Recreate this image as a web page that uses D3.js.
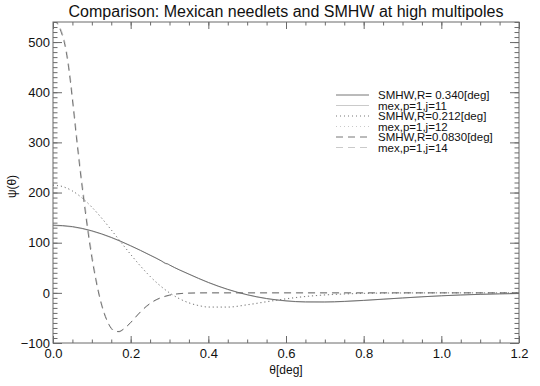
<!DOCTYPE html>
<html>
<head>
<meta charset="utf-8">
<script src="https://cdn.jsdelivr.net/npm/d3@7"></script>
<style>
  body { margin: 0; background: #fff; }
  text { font-family: 'Liberation Sans', Arial, sans-serif; fill: #111; }
</style>
</head>
<body>
<svg></svg>
<script>
let SVG = d3.select('svg').attr('width', 540).attr('height', 386);

// --- data
const THETA_1 = [0, 0.05, 0.1, 0.15, 0.2, 0.25, 0.28, 0.29, 0.295, 0.3, 0.35, 0.4, 0.45, 0.5, 0.55, 0.6, 0.65, 0.7, 0.75, 0.8, 0.85, 0.9, 0.95, 1.0, 1.05, 1.1, 1.15, 1.2];
const SMHW_340 = [135, 132.1, 123.7, 110.6, 93.9, 75.2, 63.2, 58.3, 57.8, 55.6, 37.4, 20.8, 7.0, -3.7, -11.3, -15.9, -18.0, -18.1, -17.0, -15.0, -12.6, -10.2, -7.9, -5.9, -4.3, -3.0, -2.1, -1.4];
const MEX_J11 = [134, 131.3, 123.0, 110.0, 93.5, 75.0, 63.5, 59.5, 57.5, 55.5, 37.0, 20.3, 6.5, -4.2, -11.8, -16.4, -18.5, -18.6, -17.4, -15.3, -12.8, -10.3, -7.9, -5.8, -4.1, -2.8, -1.8, -1.1];

const THETA_2 = [0, 0.025, 0.05, 0.075, 0.1, 0.125, 0.15, 0.175, 0.2, 0.225, 0.25, 0.275, 0.3, 0.325, 0.35, 0.375, 0.4, 0.45, 0.5, 0.55, 0.6, 0.65, 0.7, 0.75, 0.8, 0.9, 1.0, 1.1, 1.2];
const SMHW_212 = [215, 212, 203.3, 189.3, 171, 149.3, 125.5, 100.8, 76.5, 53.5, 32.7, 14.7, -0.1, -11.6, -20, -25.4, -28.3, -28.3, -23.7, -17.6, -11.8, -7.2, -4.1, -2.2, -1.0, -0.2, 0, 0, 0];
const MEX_J12 = [214, 211.2, 202.6, 188.8, 170.7, 149.2, 125.6, 101.1, 77.0, 54.1, 33.3, 15.3, 0.4, -11.2, -19.7, -25.2, -28.3, -28.6, -24.2, -18.2, -12.4, -7.7, -4.5, -2.5, -1.3, -0.4, -0.1, 0, 0];

const THETA_3 = [0, 0.01, 0.02, 0.03, 0.04, 0.05, 0.06, 0.07, 0.08, 0.09, 0.1, 0.11, 0.12, 0.13, 0.14, 0.15, 0.16, 0.17, 0.18, 0.2, 0.22, 0.24, 0.26, 0.28, 0.3, 0.32, 0.35, 0.4, 0.5, 0.6, 0.8, 1.0, 1.2];
const SMHW_083 = [545, 538, 522, 496, 450, 385, 312, 243, 180, 122, 70, 27, -9, -37, -57, -71, -77, -77, -73, -59, -42, -27, -16, -9, -4.5, -2, -0.5, 0, 0, 0, 0, 0, 0];
const MEX_J14 = [545, 540, 526, 502, 458, 394, 322, 253, 190, 131, 78, 33, -5, -34, -56, -70, -76, -78, -74, -60, -43, -28, -17, -9.5, -5, -2.2, -0.6, 0, 0, 0, 0, 0, 0];

const LEGEND_LABELS = ['SMHW,R= 0.340[deg]', 'mex,p=1,j=11', 'SMHW,R=0.212[deg]', 'mex,p=1,j=12', 'SMHW,R=0.0830[deg]', 'mex,p=1,j=14'];
const X_TICKS = [0, 0.2, 0.4, 0.6, 0.8, 1.0, 1.2];
const Y_TICKS = [-100, 0, 100, 200, 300, 400, 500];

// ---
const LEFT = 53, RIGHT = 519, TOP = 22, BOTTOM = 343;
const DARK = '#666', LIGHT = '#c4c4c4', AXIS = '#6a6a6a';

let x = d3.scaleLinear().domain([0, 1.2]).range([LEFT, RIGHT]);
let y = d3.scaleLinear().domain([-100, 540]).range([BOTTOM, TOP]);

SVG.append('defs').append('clipPath').attr('id', 'plotClip')
  .append('rect').attr('x', LEFT).attr('y', TOP).attr('width', RIGHT - LEFT).attr('height', BOTTOM - TOP);

const series = [
  { t: THETA_1, v: SMHW_340, color: DARK, dash: null },
  { t: THETA_1, v: MEX_J11, color: LIGHT, dash: null },
  { t: THETA_2, v: SMHW_212, color: DARK, dash: '1,3' },
  { t: THETA_2, v: MEX_J12, color: LIGHT, dash: '1,3' },
  { t: THETA_3, v: SMHW_083, color: DARK, dash: '7,5' },
  { t: THETA_3, v: MEX_J14, color: LIGHT, dash: '7,5' },
];

let line = d3.line().x(d => x(d[0])).y(d => y(d[1])).curve(d3.curveMonotoneX);

let plotG = SVG.append('g').attr('clip-path', 'url(#plotClip)');
// light ones first so dark lines sit on top
[1, 3, 5, 0, 2, 4].forEach(i => {
  let s = series[i];
  plotG.append('path')
    .datum(d3.zip(s.t, s.v))
    .attr('d', line)
    .attr('fill', 'none')
    .attr('stroke', s.color)
    .attr('stroke-width', 0.9)
    .attr('stroke-dasharray', s.dash);
});

// axes: major + minor ticks on all four sides, pointing inward
function styleAxis(g) {
  g.select('.domain').remove();
  g.selectAll('line').attr('stroke', AXIS);
  g.selectAll('text').style('font-size', '13px').attr('fill', '#111');
}

const xMinor = d3.range(0, 1.2001, 0.05);
const yMinor = d3.range(-100, 541, 10);

let xb = SVG.append('g').attr('transform', `translate(0,${BOTTOM})`);
d3.axisBottom(x).tickValues(xMinor).tickSize(-3.5).tickFormat('')(xb);
styleAxis(xb);
let xbMaj = SVG.append('g').attr('transform', `translate(0,${BOTTOM})`);
d3.axisBottom(x).tickValues(X_TICKS).tickSize(-7).tickPadding(6).tickFormat(d3.format('.1f'))(xbMaj);
styleAxis(xbMaj);

let xt = SVG.append('g').attr('transform', `translate(0,${TOP})`);
d3.axisTop(x).tickValues(xMinor).tickSize(-3.5).tickFormat('')(xt);
styleAxis(xt);
let xtMaj = SVG.append('g').attr('transform', `translate(0,${TOP})`);
d3.axisTop(x).tickValues(X_TICKS).tickSize(-7).tickFormat('')(xtMaj);
styleAxis(xtMaj);

let yl = SVG.append('g').attr('transform', `translate(${LEFT},0)`);
d3.axisLeft(y).tickValues(yMinor).tickSize(-4.5).tickFormat('')(yl);
styleAxis(yl);
let ylMaj = SVG.append('g').attr('transform', `translate(${LEFT},0)`);
d3.axisLeft(y).tickValues(Y_TICKS).tickSize(-9).tickPadding(3).tickFormat(d3.format('d'))(ylMaj);
styleAxis(ylMaj);

let yr = SVG.append('g').attr('transform', `translate(${RIGHT},0)`);
d3.axisRight(y).tickValues(yMinor).tickSize(-4.5).tickFormat('')(yr);
styleAxis(yr);
let yrMaj = SVG.append('g').attr('transform', `translate(${RIGHT},0)`);
d3.axisRight(y).tickValues(Y_TICKS).tickSize(-9).tickFormat('')(yrMaj);
styleAxis(yrMaj);

// frame
SVG.append('rect')
  .attr('x', LEFT).attr('y', TOP)
  .attr('width', RIGHT - LEFT).attr('height', BOTTOM - TOP)
  .attr('fill', 'none').attr('stroke', AXIS).attr('stroke-width', 1);

// titles
SVG.append('text').attr('x', (LEFT + RIGHT) / 2).attr('y', 17)
  .attr('text-anchor', 'middle').style('font-size', '16px')
  .text('Comparison: Mexican needlets and SMHW at high multipoles');

SVG.append('text').attr('x', (LEFT + RIGHT) / 2).attr('y', 374)
  .attr('text-anchor', 'middle').style('font-size', '12px')
  .text('θ[deg]');

SVG.append('text')
  .attr('transform', `translate(16,${(TOP + BOTTOM) / 2 + 4}) rotate(-90)`)
  .attr('text-anchor', 'middle').style('font-size', '12px')
  .text('ψ(θ)');

// legend
let legend = SVG.append('g');
LEGEND_LABELS.forEach((lab, i) => {
  let ly = 95 + i * 10.5;
  legend.append('line')
    .attr('x1', 336).attr('x2', 369).attr('y1', ly).attr('y2', ly)
    .attr('stroke', series[i].color).attr('stroke-width', 0.9)
    .attr('stroke-dasharray', series[i].dash);
  legend.append('text').attr('x', 378).attr('y', ly + 4)
    .style('font-size', '11.5px').text(lab);
});
</script>
</body>
</html>
